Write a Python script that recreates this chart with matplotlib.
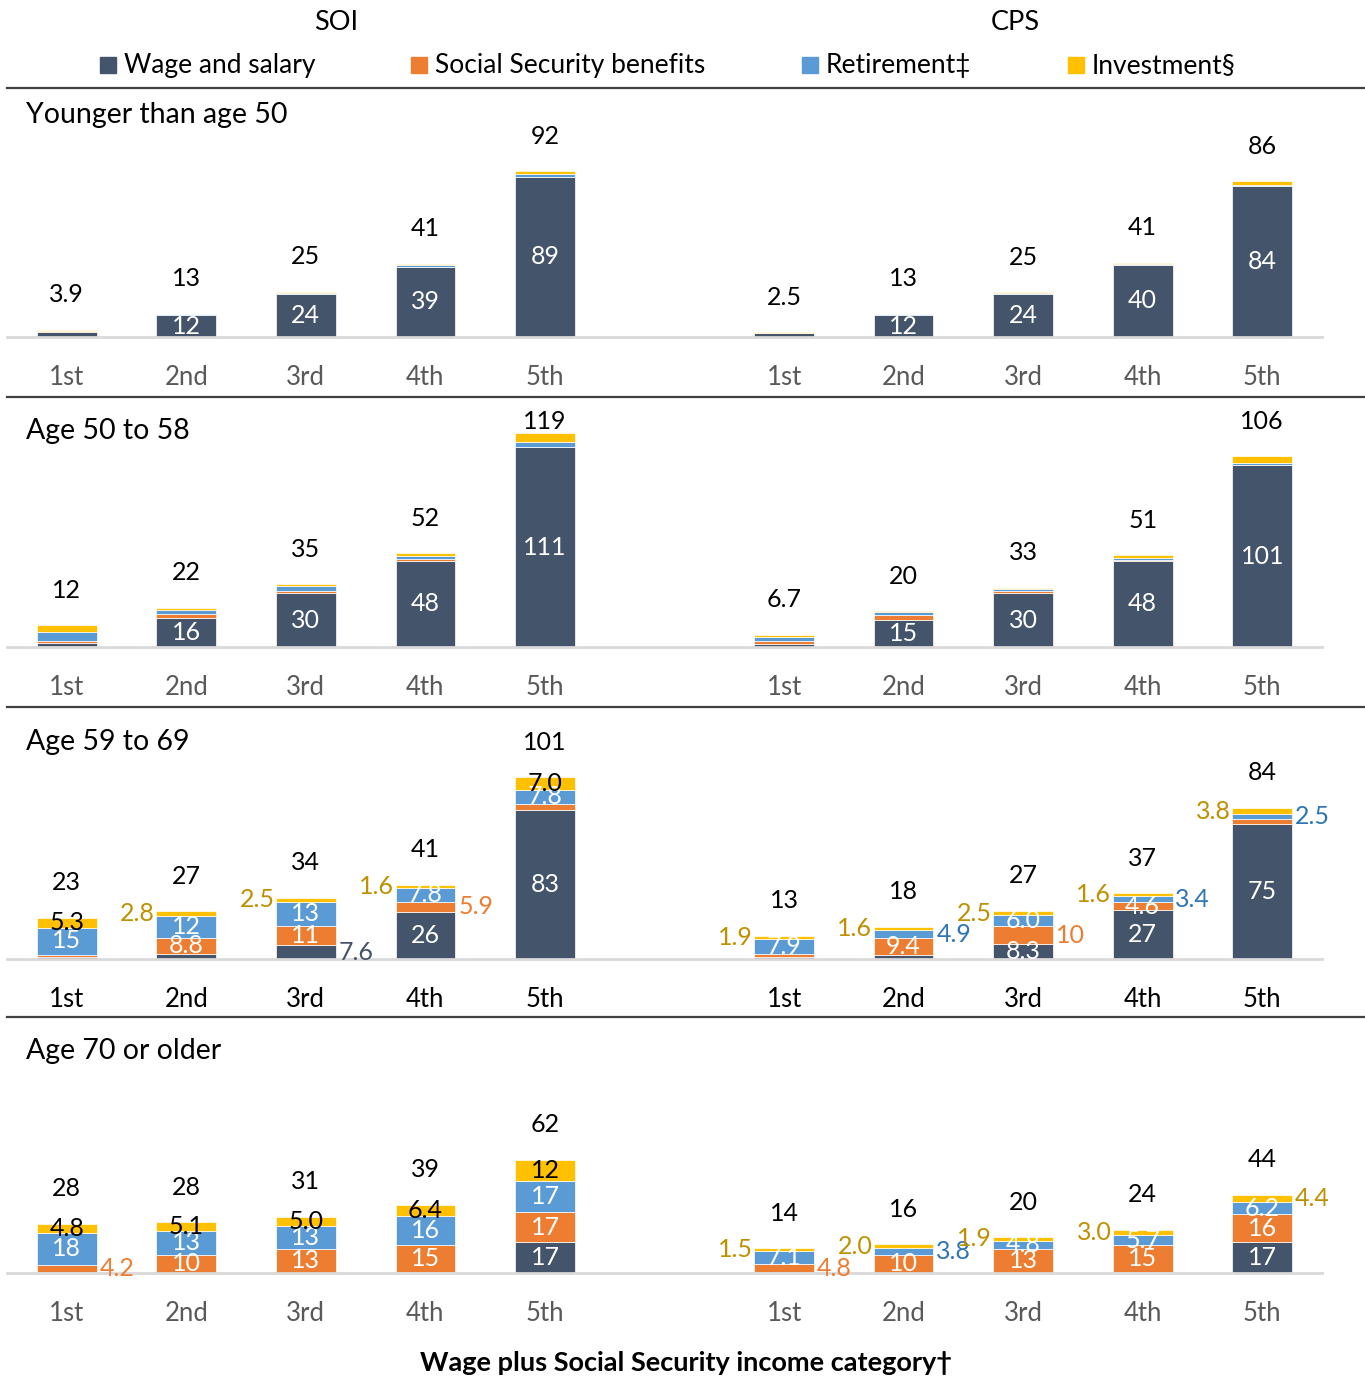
import matplotlib.pyplot as plt
from matplotlib.patches import Rectangle
from matplotlib.lines import Line2D

plt.rcParams['font.family'] = ['Lato', 'DejaVu Sans']

# ---- data ----
rows = ["Younger than age 50", "Age 50 to 58", "Age 59 to 69", "Age 70 or older"]
quintiles = ["1st", "2nd", "3rd", "4th", "5th"]
sources = ["SOI", "CPS"]
series = ["Wage and salary", "Social Security benefits", "Retirement\u2021", "Investment\u00a7"]

# each row: SOI 1st..5th, then CPS 1st..5th
wage = [
    [3.0, 12, 24, 39, 89, 2.0, 12, 24, 40, 84],
    [2.5, 16, 30, 48, 111, 1.5, 15, 30, 48, 101],
    [1.0, 3.0, 7.6, 26, 83, 1.0, 2.0, 8.3, 27, 75],
    [0.3, 0.2, 0.2, 0.5, 17, 0.3, 0.2, 0.2, 0.3, 17],
]
social = [
    [0.1, 0.1, 0.1, 0.1, 0.1, 0.1, 0.3, 0.1, 0.1, 0.1],
    [0.8, 2.2, 1.2, 0.7, 0.3, 1.6, 2.8, 1.0, 0.6, 0.3],
    [1.5, 8.8, 11, 5.9, 3.3, 2.0, 9.4, 10, 4.6, 2.8],
    [4.2, 10, 13, 15, 17, 4.8, 10, 13, 15, 16],
]
retire = [
    [0.3, 0.6, 0.6, 1.0, 1.2, 0.2, 0.3, 0.3, 0.3, 0.3],
    [4.8, 2.4, 2.6, 2.1, 2.7, 2.2, 1.4, 1.0, 0.8, 0.8],
    [15, 12, 13, 7.8, 7.8, 7.9, 4.9, 6.0, 3.4, 2.5],
    [18, 13, 13, 16, 17, 7.1, 3.8, 4.8, 5.7, 6.2],
]
invest = [
    [0.5, 0.3, 0.3, 0.6, 1.8, 0.2, 0.4, 0.4, 0.9, 2.2],
    [3.9, 1.3, 1.2, 1.2, 5.0, 1.4, 0.8, 1.0, 1.6, 3.9],
    [5.3, 2.8, 2.5, 1.6, 7.0, 1.9, 1.6, 2.5, 1.6, 3.8],
    [4.8, 5.1, 5.0, 6.4, 12, 1.5, 2.0, 1.9, 3.0, 4.4],
]
totals = [
    [3.9, 13, 25, 41, 92, 2.5, 13, 25, 41, 86],
    [12, 22, 35, 52, 119, 6.7, 20, 33, 51, 106],
    [23, 27, 34, 41, 101, 13, 18, 27, 37, 84],
    [28, 28, 31, 39, 62, 14, 16, 20, 24, 44],
]

# where each segment label goes: i = inside, L/R = outside left/right, . = none
label_modes = [
    [".iiii.iiii", "..........", "..........", ".........."],
    [".iiii.iiii", "..........", "..........", ".........."],
    ["..Rii..iii", ".iiR..iRi.", "iiiiiiRiRR", "iLLLiLLLLL"],
    ["....i....i", "RiiiiRiiii", "iiiiiiRiii", "iiiiiLLLLR"],
]

colors = ['#44546A', '#ED7D31', '#5B9BD5', '#FFC000']
out_colors = ['#44546A', '#ED7D31', '#2E75B6', '#BF9000']
in_colors = ['white', 'white', 'white', 'black']

W, H = 1365, 1378
baselines = [337, 647, 959, 1273]
seps = [88, 397, 707, 1017]
title_y = [115, 431, 742, 1051]
ymax = 140
px_per_unit = 1.8
lab_fs = 18


def fmt(v):
    return f"{v:.1f}" if v < 10 else f"{v:.0f}"


fig = plt.figure(figsize=(W / 100, H / 100), dpi=100)

xpos = [0, 1, 2, 3, 4, 6, 7, 8, 9, 10]
tick_colors = ['#595959', '#595959', 'black', '#595959']

for r in range(4):
    ax = fig.add_axes([7 / W, 1 - baselines[r] / H, 1315 / W, ymax * px_per_unit / H])
    ax.set_xlim(-0.5, 10.5)
    ax.set_ylim(0, ymax)
    data = [wage[r], social[r], retire[r], invest[r]]
    bottom = [0.0] * 10
    for s in range(4):
        ax.bar(xpos, data[s], width=0.5, bottom=bottom, color=colors[s],
               edgecolor='white', linewidth=0.5)
        for k in range(10):
            v = data[s][k]
            mode = label_modes[r][s][k]
            yc = bottom[k] + v / 2
            if mode == 'i':
                ax.text(xpos[k], yc, fmt(v), ha='center', va='center',
                        fontsize=lab_fs, color=in_colors[s])
            elif mode == 'L':
                ax.annotate(fmt(v), (xpos[k] - 0.25, yc), xytext=(-1, 0),
                            textcoords='offset points', ha='right', va='center',
                            fontsize=lab_fs, color=out_colors[s])
            elif mode == 'R':
                ax.annotate(fmt(v), (xpos[k] + 0.25, yc), xytext=(2, 0),
                            textcoords='offset points', ha='left', va='center',
                            fontsize=lab_fs, color=out_colors[s])
        bottom = [bottom[k] + data[s][k] for k in range(10)]
    for k in range(10):
        # total label above the bar, kept inside the panel
        ylab = min(bottom[k] + 35 / px_per_unit, ymax - 26 / px_per_unit)
        ax.text(xpos[k], ylab, fmt(totals[r][k]), ha='center', va='center',
                fontsize=lab_fs, color='black')

    ax.set_xticks(xpos, quintiles * 2)
    ax.tick_params(axis='x', length=0, pad=20, labelsize=18.5, labelcolor=tick_colors[r])
    ax.set_yticks([])
    for sp in ['top', 'left', 'right']:
        ax.spines[sp].set_visible(False)
    ax.spines['bottom'].set_color('#D9D9D9')
    ax.spines['bottom'].set_linewidth(2)
    ax.patch.set_alpha(0)

    # row separator and row title
    fy = 1 - seps[r] / H
    fig.add_artist(Line2D([7 / W, 1], [fy, fy], color='#404040', linewidth=1.6))
    fig.text(26 / W, 1 - title_y[r] / H, rows[r], fontsize=20.5, va='center', ha='left')

# column headers
fig.text(336 / W, 1 - 23 / H, sources[0], fontsize=19.5, ha='center', va='center')
fig.text(1015 / W, 1 - 23 / H, sources[1], fontsize=19.5, ha='center', va='center')

# legend
leg_x = [100, 411, 802, 1068]
for s in range(4):
    fig.add_artist(Rectangle((leg_x[s] / W, 1 - 73 / H), 16 / W, 16 / H,
                             transform=fig.transFigure, color=colors[s]))
    fig.text((leg_x[s] + 24) / W, 1 - 66 / H, series[s], fontsize=19, ha='left', va='center')

fig.text(686 / W, 1 - 1363 / H, "Wage plus Social Security income category\u2020",
         fontsize=19.5, fontweight='bold', ha='center', va='center')

fig.savefig('out.png', dpi=100)
